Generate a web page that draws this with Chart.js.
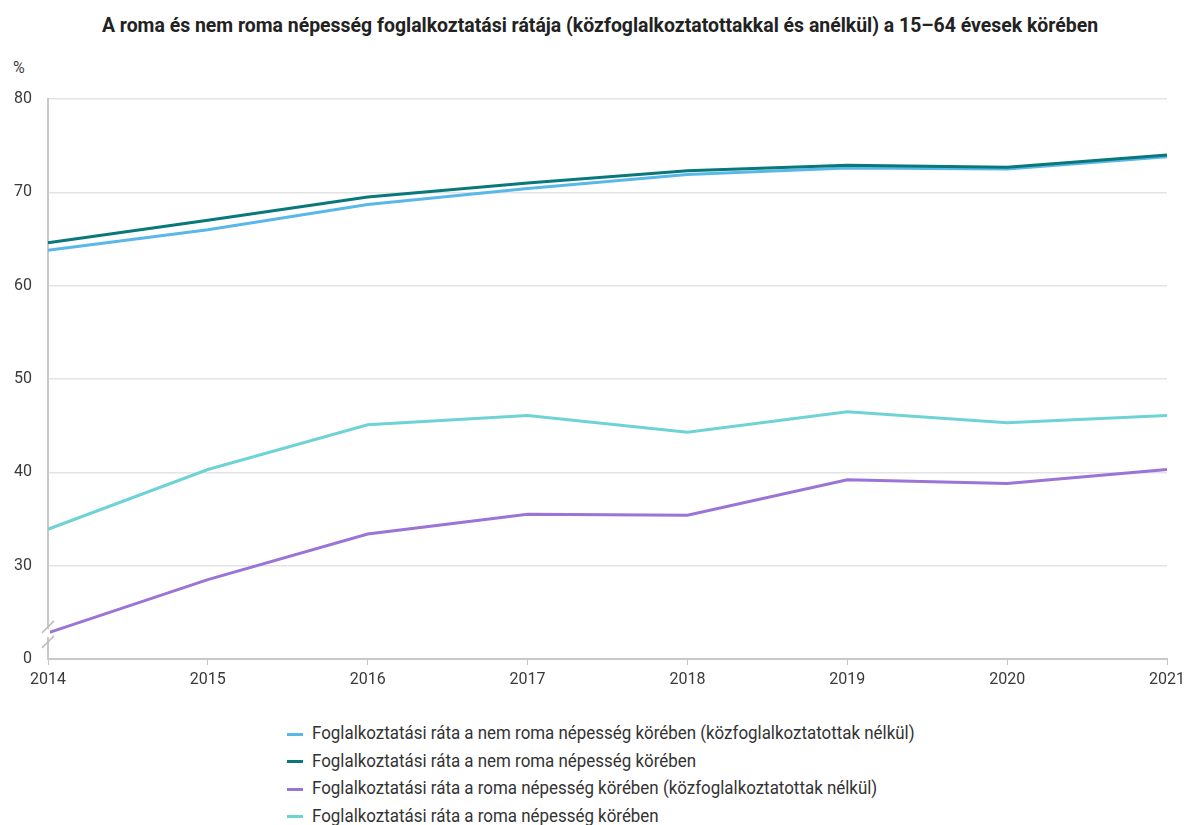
<!DOCTYPE html>
<html lang="hu">
<head>
<meta charset="utf-8">
<title>Roma és nem roma foglalkoztatási ráta</title>
<script src="https://cdn.jsdelivr.net/npm/chart.js@4.4.1/dist/chart.umd.min.js"></script>
<style>
    body { margin: 0; background: #fff; font-family: Roboto, "Noto Sans", sans-serif; }
    #wrap { position: relative; width: 1184px; height: 825px; overflow: hidden; }
    #title {
        position: absolute; top: 13px; left: 0; width: 1200px;
        text-align: center; font-weight: bold; font-size: 21px; color: #222;
        transform: scaleX(0.925); transform-origin: 600px 0;
    }
    #unit { position: absolute; left: 13px; top: 58px; font-size: 16px; color: #444; }
    #chartBox { position: absolute; left: 0; top: 0; width: 1184px; height: 705px; }
    #legend { position: absolute; left: 287px; top: 719px; margin: 0; padding: 0; list-style: none; }
    #legend li { height: 27.5px; line-height: 27.5px; font-size: 18px; color: #333; white-space: nowrap; }
    #legend span.mark { display: inline-block; width: 16px; height: 3px; vertical-align: middle; margin-right: 9px; }
    #legend span.txt { display: inline-block; transform: scaleX(0.94); transform-origin: 0 50%; }
</style>
</head>
<body>
<div id="wrap">
    <div id="title">A roma és nem roma népesség foglalkoztatási rátája (közfoglalkoztatottakkal és anélkül) a 15–64 évesek körében</div>
    <div id="unit">%</div>
    <div id="chartBox"><canvas id="rateChart"></canvas></div>
    <ul id="legend"></ul>
</div>
<script>
// --- adatok ---
const years = ['2014', '2015', '2016', '2017', '2018', '2019', '2020', '2021'];

const nemRomaKozfNelkul = [63.8, 66.0, 68.7, 70.4, 71.9, 72.6, 72.5, 73.8];
const nemRoma           = [64.6, 67.0, 69.5, 71.0, 72.3, 72.9, 72.7, 74.0];
const romaKozfNelkul    = [22.8, 28.5, 33.4, 35.5, 35.4, 39.2, 38.8, 40.3];
const roma              = [33.9, 40.3, 45.1, 46.1, 44.3, 46.5, 45.3, 46.1];

const seriesNames = [
    'Foglalkoztatási ráta a nem roma népesség körében (közfoglalkoztatottak nélkül)',
    'Foglalkoztatási ráta a nem roma népesség körében',
    'Foglalkoztatási ráta a roma népesség körében (közfoglalkoztatottak nélkül)',
    'Foglalkoztatási ráta a roma népesség körében'
];
const seriesColors = ['#5ab8e8', '#08787a', '#9a74d6', '#6fd3d6'];

// y tengely: 20 alatt megtört, az alsó felirat 0
const yMin = 20;
const yMax = 80;

document.addEventListener('DOMContentLoaded', () => {
    const allSeries = [nemRomaKozfNelkul, nemRoma, romaKozfNelkul, roma];
    const drawOrder = [1, 0, 2, 3];

    const datasets = allSeries.map((vals, i) => ({
        label: seriesNames[i],
        data: vals,
        borderColor: seriesColors[i],
        backgroundColor: seriesColors[i],
        borderWidth: 3,
        pointRadius: 0,
        tension: 0,
        order: drawOrder[i]
    }));

    // tengelytörés jele
    const axisBreak = {
        id: 'axisBreak',
        afterDraw(chart) {
            const ctx = chart.ctx;
            const x = chart.chartArea.left;
            const y = chart.scales.y.getPixelForValue(22.8);
            ctx.save();
            ctx.fillStyle = '#fff';
            ctx.fillRect(x - 2, y - 4, 4, 8);
            ctx.strokeStyle = '#bbb';
            ctx.lineWidth = 1.5;
            [-6, 9].forEach(dy => {
                ctx.beginPath();
                ctx.moveTo(x - 6, y + dy + 6);
                ctx.lineTo(x + 6, y + dy - 6);
                ctx.stroke();
            });
            ctx.restore();
        }
    };

    new Chart(document.getElementById('rateChart'), {
        type: 'line',
        data: { labels: years, datasets: datasets },
        options: {
            responsive: true,
            maintainAspectRatio: false,
            animation: false,
            layout: { padding: { top: 99, right: 0, left: 0, bottom: 0 } },
            plugins: {
                legend: { display: false },
                tooltip: { enabled: false }
            },
            scales: {
                x: {
                    offset: false,
                    grid: { display: true, drawOnChartArea: false, drawTicks: true, tickLength: 6, color: '#c8c8c8' },
                    border: { color: '#c8c8c8', width: 2 },
                    ticks: { color: '#3a3a3a', font: { family: 'Roboto', size: 16 }, padding: 5, maxRotation: 0 },
                    afterFit: s => { s.height = 46; s.paddingRight = 17; s.paddingLeft = 0; }
                },
                y: {
                    min: yMin,
                    max: yMax,
                    grid: { color: '#e4e4e4', lineWidth: 1.5, drawTicks: false },
                    border: { color: '#c8c8c8', width: 2 },
                    ticks: {
                        stepSize: 10,
                        padding: 16,
                        color: '#3a3a3a',
                        font: { family: 'Roboto', size: 16 },
                        callback: v => (v === yMin ? '0' : v)
                    },
                    afterFit: s => { s.width = 48; }
                }
            }
        },
        plugins: [axisBreak]
    });

    // jelmagyarázat
    const legend = document.getElementById('legend');
    seriesNames.forEach((name, i) => {
        const li = document.createElement('li');
        li.innerHTML = `<span class="mark" style="background:${seriesColors[i]}"></span><span class="txt">${name}</span>`;
        legend.appendChild(li);
    });
});
</script>
</body>
</html>
